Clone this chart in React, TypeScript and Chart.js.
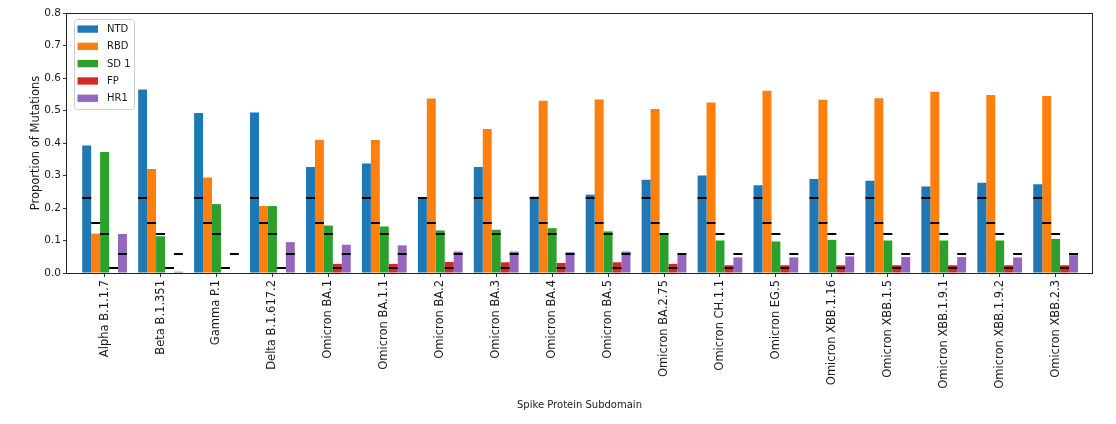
import { useEffect, useRef } from "react";
import { Chart, registerables } from "chart.js";

Chart.register(...registerables);

// ---- data ----
const categories = [
  "Alpha B.1.1.7",
  "Beta B.1.351",
  "Gamma P.1",
  "Delta B.1.617.2",
  "Omicron BA.1",
  "Omicron BA.1.1",
  "Omicron BA.2",
  "Omicron BA.3",
  "Omicron BA.4",
  "Omicron BA.5",
  "Omicron BA.2.75",
  "Omicron CH.1.1",
  "Omicron EG.5",
  "Omicron XBB.1.16",
  "Omicron XBB.1.5",
  "Omicron XBB.1.9.1",
  "Omicron XBB.1.9.2",
  "Omicron XBB.2.3",
];

const seriesNames = ["NTD", "RBD", "SD 1", "FP", "HR1"];
const seriesColors = ["#1f77b4", "#ff7f0e", "#2ca02c", "#d62728", "#9467bd"];

const ntd = [0.392, 0.565, 0.492, 0.494, 0.326, 0.337, 0.232, 0.326, 0.235, 0.241, 0.287, 0.3, 0.27, 0.289, 0.284, 0.266, 0.278, 0.273];
const rbd = [0.121, 0.32, 0.294, 0.206, 0.41, 0.409, 0.537, 0.443, 0.53, 0.534, 0.505, 0.525, 0.561, 0.533, 0.538, 0.558, 0.548, 0.545];
const sd1 = [0.372, 0.113, 0.212, 0.206, 0.146, 0.143, 0.131, 0.133, 0.138, 0.128, 0.121, 0.1, 0.097, 0.102, 0.1, 0.1, 0.1, 0.105];
const fp = [0, 0, 0, 0, 0.028, 0.028, 0.034, 0.033, 0.031, 0.033, 0.028, 0.024, 0.024, 0.024, 0.024, 0.024, 0.024, 0.024];
const hr1 = [0.12, 0.004, 0, 0.095, 0.087, 0.085, 0.066, 0.066, 0.064, 0.066, 0.057, 0.048, 0.048, 0.051, 0.049, 0.049, 0.048, 0.055];

// expected proportion per subdomain (black marker lines)
const expected = [0.23, 0.153, 0.121, 0.014, 0.057];

const yTickStep = 0.1;
const yMin = 0;
const yMax = 0.8;

const xTitle = "Spike Protein Subdomain";
const yTitle = "Proportion of Mutations";

// ---- layout ----
const W = 1116;
const H = 424;
const PLOT = { left: 67, right: 1092, top: 13, bottom: 273 };
const X_MIN = -0.672;
const X_MAX = 17.65;
const FONT = "'DejaVu Sans', sans-serif";
const TEXT = "#1a1a1a";

const expectedLinesPlugin = {
  id: "expectedLines",
  afterDatasetsDraw(chart: any) {
    const { ctx, scales } = chart;
    ctx.save();
    ctx.fillStyle = "#000";
    expected.forEach((val, i) => {
      const meta = chart.getDatasetMeta(i);
      const y = scales.y.getPixelForValue(val);
      meta.data.forEach((el: any) => {
        const { x, width } = el.getProps(["x", "width"], true);
        ctx.fillRect(x - width / 2, Math.round(y) - 1, width, 2);
      });
    });
    ctx.restore();
  },
};

const framePlugin = {
  id: "frame",
  afterDraw(chart: any) {
    const { ctx, chartArea } = chart;
    ctx.save();
    ctx.strokeStyle = "#222";
    ctx.lineWidth = 1;
    const l = Math.round(chartArea.left) - 0.5;
    const t = Math.round(chartArea.top) + 0.5;
    const r = Math.round(chartArea.right) + 0.5;
    const b = Math.round(chartArea.bottom) + 0.5;
    ctx.strokeRect(l, t, r - l, b - t);
    ctx.restore();
  },
};

const legendPlugin = {
  id: "boxLegend",
  afterDraw(chart: any) {
    const { ctx, chartArea } = chart;
    const bx = chartArea.left + 7;
    const by = chartArea.top + 6;
    const bw = 60;
    const bh = 90;
    ctx.save();
    ctx.beginPath();
    if (ctx.roundRect) ctx.roundRect(bx + 0.5, by + 0.5, bw, bh, 3);
    else ctx.rect(bx + 0.5, by + 0.5, bw, bh);
    ctx.fillStyle = "rgba(255,255,255,0.8)";
    ctx.fill();
    ctx.strokeStyle = "#cccccc";
    ctx.lineWidth = 1;
    ctx.stroke();
    ctx.font = `10px ${FONT}`;
    ctx.textBaseline = "middle";
    ctx.textAlign = "left";
    chart.data.datasets.forEach((ds: any, i: number) => {
      const cy = by + 10 + i * 17.3;
      ctx.fillStyle = ds.backgroundColor;
      ctx.fillRect(bx + 3.5, cy - 3.6, 20.5, 7.3);
      ctx.fillStyle = TEXT;
      ctx.fillText(ds.label, bx + 33, cy + 0.5);
    });
    ctx.restore();
  },
};

export default function App() {
  const canvasRef = useRef<HTMLCanvasElement | null>(null);

  useEffect(() => {
    if (!canvasRef.current) return;
    Chart.defaults.font.family = FONT;
    const seriesValues = [ntd, rbd, sd1, fp, hr1];
    const chart = new Chart(canvasRef.current, {
      type: "bar",
      data: {
        datasets: seriesValues.map((vals, i) => ({
          label: seriesNames[i],
          data: vals.map((v, j) => ({ x: j, y: v })),
          backgroundColor: seriesColors[i],
          borderWidth: 0,
          categoryPercentage: 0.8,
          barPercentage: 1.0,
        })),
      },
      options: {
        animation: false,
        responsive: true,
        maintainAspectRatio: false,
        layout: {
          padding: { left: 0, right: W - PLOT.right, top: PLOT.top, bottom: 0 },
        },
        plugins: {
          legend: { display: false },
          tooltip: { enabled: false },
        },
        scales: {
          x: {
            type: "linear",
            min: X_MIN,
            max: X_MAX,
            offset: false,
            afterBuildTicks: (axis: any) => {
              axis.ticks = categories.map((_, i) => ({ value: i }));
            },
            afterFit: (scale: any) => {
              scale.height = H - PLOT.bottom;
            },
            ticks: {
              autoSkip: false,
              minRotation: 90,
              maxRotation: 90,
              padding: 3,
              color: TEXT,
              font: { size: 11.5 },
              callback: (v: any) => categories[Math.round(Number(v))] ?? "",
            },
            grid: {
              offset: false,
              drawOnChartArea: false,
              drawTicks: true,
              tickLength: 4,
              color: "#333",
            },
            border: { display: false },
            title: {
              display: true,
              text: xTitle,
              color: TEXT,
              font: { size: 10 },
              padding: { top: 0, bottom: 13 },
            },
          },
          y: {
            min: yMin,
            max: yMax,
            afterFit: (scale: any) => {
              scale.width = PLOT.left;
            },
            ticks: {
              stepSize: yTickStep,
              padding: 2,
              color: TEXT,
              font: { size: 10.5 },
              callback: (v: any) => Number(v).toFixed(1),
            },
            grid: {
              drawOnChartArea: false,
              drawTicks: true,
              tickLength: 4,
              color: "#333",
            },
            border: { display: false },
            title: {
              display: true,
              text: yTitle,
              color: TEXT,
              font: { size: 11.5 },
              padding: { top: 29, bottom: 0 },
            },
          },
        },
      } as any,
      plugins: [expectedLinesPlugin, framePlugin, legendPlugin],
    });
    return () => chart.destroy();
  }, []);

  return (
    <div
      style={{
        position: "fixed",
        left: 0,
        top: 0,
        width: W,
        height: H,
        background: "#fff",
      }}
    >
      <canvas ref={canvasRef} />
    </div>
  );
}
